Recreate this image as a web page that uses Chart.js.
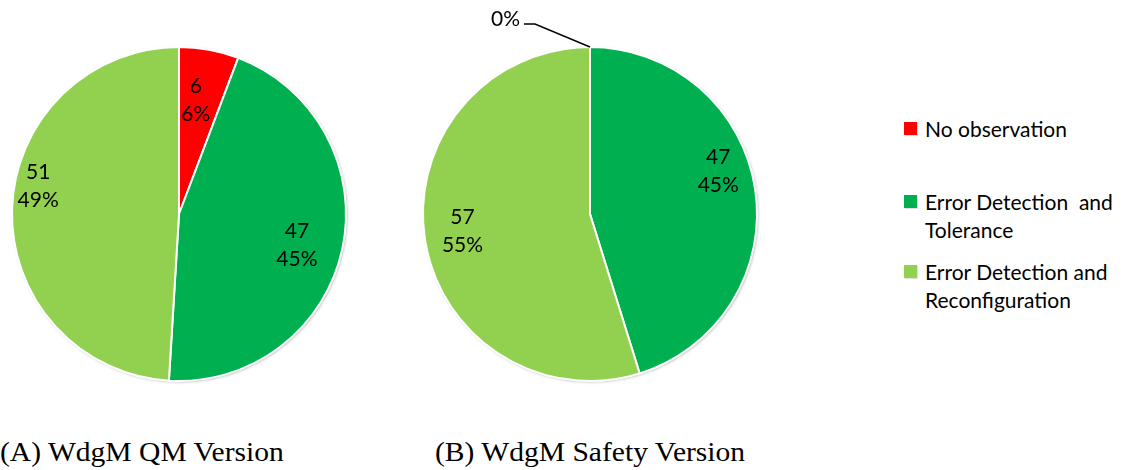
<!DOCTYPE html>
<html>
<head>
<meta charset="utf-8">
<script src="https://cdn.jsdelivr.net/npm/chart.js@4.4.1/dist/chart.umd.min.js"></script>
<style>
  html, body { margin: 0; padding: 0; background: #fff; }
  #wrap { position: relative; width: 1125px; height: 470px; overflow: hidden; background: #fff; }
  canvas { position: absolute; }
  #legend { position: absolute; left: 904px; top: 0; font-family: Lato, "Open Sans", sans-serif; font-size: 21px; color: #000; }
  .item { position: absolute; left: 0; white-space: nowrap; }
  .mk { position: absolute; left: 0; width: 13px; height: 13px; box-sizing: border-box; }
  .tx { position: absolute; left: 21px; line-height: 28px; }
  .cap { position: absolute; font-family: "Liberation Serif", "Times New Roman", serif; font-size: 27px; color: #000; white-space: nowrap; line-height: 1; transform: scaleX(1.095); transform-origin: 0 0; }
</style>
</head>
<body>
<div id="wrap">
  <canvas id="pieA" width="400" height="430" style="left:-21px; top:0px;"></canvas>
  <canvas id="pieB" width="400" height="430" style="left:390px; top:0px;"></canvas>
  <div id="legend"></div>
  <div class="cap" id="capA" style="left:0px; top:439px;"></div>
  <div class="cap" id="capB" style="left:435px; top:439px;"></div>
</div>
<script>
// ---- data ----
const categories = ['No observation', 'Error Detection  and Tolerance', 'Error Detection and Reconfiguration'];
const legendLines = [['No observation'], ['Error Detection  and', 'Tolerance'], ['Error Detection and', 'Reconfiguration']];
const qmValues = [6, 47, 51];
const safetyValues = [0, 47, 57];
const sliceColors = ['#FF0000', '#00B050', '#92D050'];
const captions = ['(A) WdgM QM Version', '(B) WdgM Safety Version'];

// ---- plugins ----
const pieShadow = {
  id: 'pieShadow',
  beforeDatasetsDraw(chart) {
    const arc = chart.getDatasetMeta(0).data[0];
    if (!arc) return;
    const p = arc.getProps(['x', 'y', 'outerRadius'], true);
    const ctx = chart.ctx;
    ctx.save();
    ctx.shadowColor = 'rgba(0,0,0,0.35)';
    ctx.shadowBlur = 3;
    ctx.shadowOffsetX = 1;
    ctx.shadowOffsetY = 1;
    ctx.beginPath();
    ctx.arc(p.x, p.y, p.outerRadius, 0, Math.PI * 2);
    ctx.fillStyle = '#fff';
    ctx.fill();
    ctx.restore();
  }
};

const sliceLabels = {
  id: 'sliceLabels',
  afterDatasetsDraw(chart, args, opts) {
    const ctx = chart.ctx;
    const meta = chart.getDatasetMeta(0);
    const data = chart.data.datasets[0].data;
    const total = data.reduce((a, b) => a + b, 0);
    ctx.save();
    ctx.font = opts.font;
    ctx.fillStyle = '#000';
    ctx.textBaseline = 'middle';
    meta.data.forEach((arc, i) => {
      const v = data[i];
      const pct = Math.round(v / total * 100) + '%';
      const p = arc.getProps(['x', 'y', 'startAngle', 'endAngle', 'outerRadius'], true);
      const place = (opts.place && opts.place[i]) || { f: 0.75, da: 0 };
      if (v === 0) {
        const a = p.startAngle;
        const sx = p.x + Math.cos(a) * p.outerRadius;
        const sy = p.y + Math.sin(a) * p.outerRadius;
        const ex = sx + opts.leader.dx, ey = sy + opts.leader.dy;
        const hx = ex - opts.leader.h;
        ctx.strokeStyle = '#000';
        ctx.lineWidth = 1.4;
        ctx.beginPath();
        ctx.moveTo(sx, sy);
        ctx.lineTo(ex, ey);
        ctx.lineTo(hx, ey);
        ctx.stroke();
        ctx.textAlign = 'right';
        ctx.fillText(pct, hx - 4, ey - 5);
      } else {
        const a = (p.startAngle + p.endAngle) / 2 + place.da * Math.PI / 180;
        const r = p.outerRadius * place.f;
        const px = p.x + Math.cos(a) * r;
        const py = p.y + Math.sin(a) * r;
        ctx.textAlign = 'center';
        ctx.fillText(String(v), px, py - opts.lineGap / 2);
        ctx.fillText(pct, px, py + opts.lineGap / 2);
      }
    });
    ctx.restore();
  }
};

function makePie(id, values, place) {
  return new Chart(document.getElementById(id), {
    type: 'pie',
    data: {
      labels: categories,
      datasets: [{
        data: values,
        backgroundColor: sliceColors,
        borderColor: '#ffffff',
        borderWidth: 2
      }]
    },
    options: {
      responsive: false,
      animation: false,
      layout: { padding: { top: 46, bottom: 48, left: 32, right: 32 } },
      plugins: {
        legend: { display: false },
        tooltip: { enabled: false },
        sliceLabels: {
          font: '21px Lato, "Open Sans", sans-serif',
          lineGap: 28,
          place: place,
          leader: { dx: -55, dy: -23, h: 11 }
        }
      }
    },
    plugins: [pieShadow, sliceLabels]
  });
}

makePie('pieA', qmValues, [{ f: 0.69, da: -2 }, { f: 0.73, da: 2.6 }, { f: 0.86, da: 9.6 }]);
makePie('pieB', safetyValues, [{ f: 0.75, da: 0 }, { f: 0.81, da: -9.9 }, { f: 0.77, da: 1.1 }]);

// ---- legend ----
const legendTops = [115, 188, 258];
const legend = document.getElementById('legend');
legendLines.forEach((lines, i) => {
  const item = document.createElement('div');
  item.className = 'item';
  item.style.top = legendTops[i] + 'px';
  const mk = document.createElement('div');
  mk.className = 'mk';
  mk.style.top = '7px';
  mk.style.background = sliceColors[i];
  mk.style.boxShadow = '1px 1px 0 rgba(0,0,0,0.12)';
  item.appendChild(mk);
  const tx = document.createElement('div');
  tx.className = 'tx';
  tx.innerHTML = lines.map(s => s.replace(/  /g, ' &nbsp;')).join('<br>');
  item.appendChild(tx);
  legend.appendChild(item);
});

document.getElementById('capA').textContent = captions[0];
document.getElementById('capB').textContent = captions[1];
</script>
</body>
</html>
